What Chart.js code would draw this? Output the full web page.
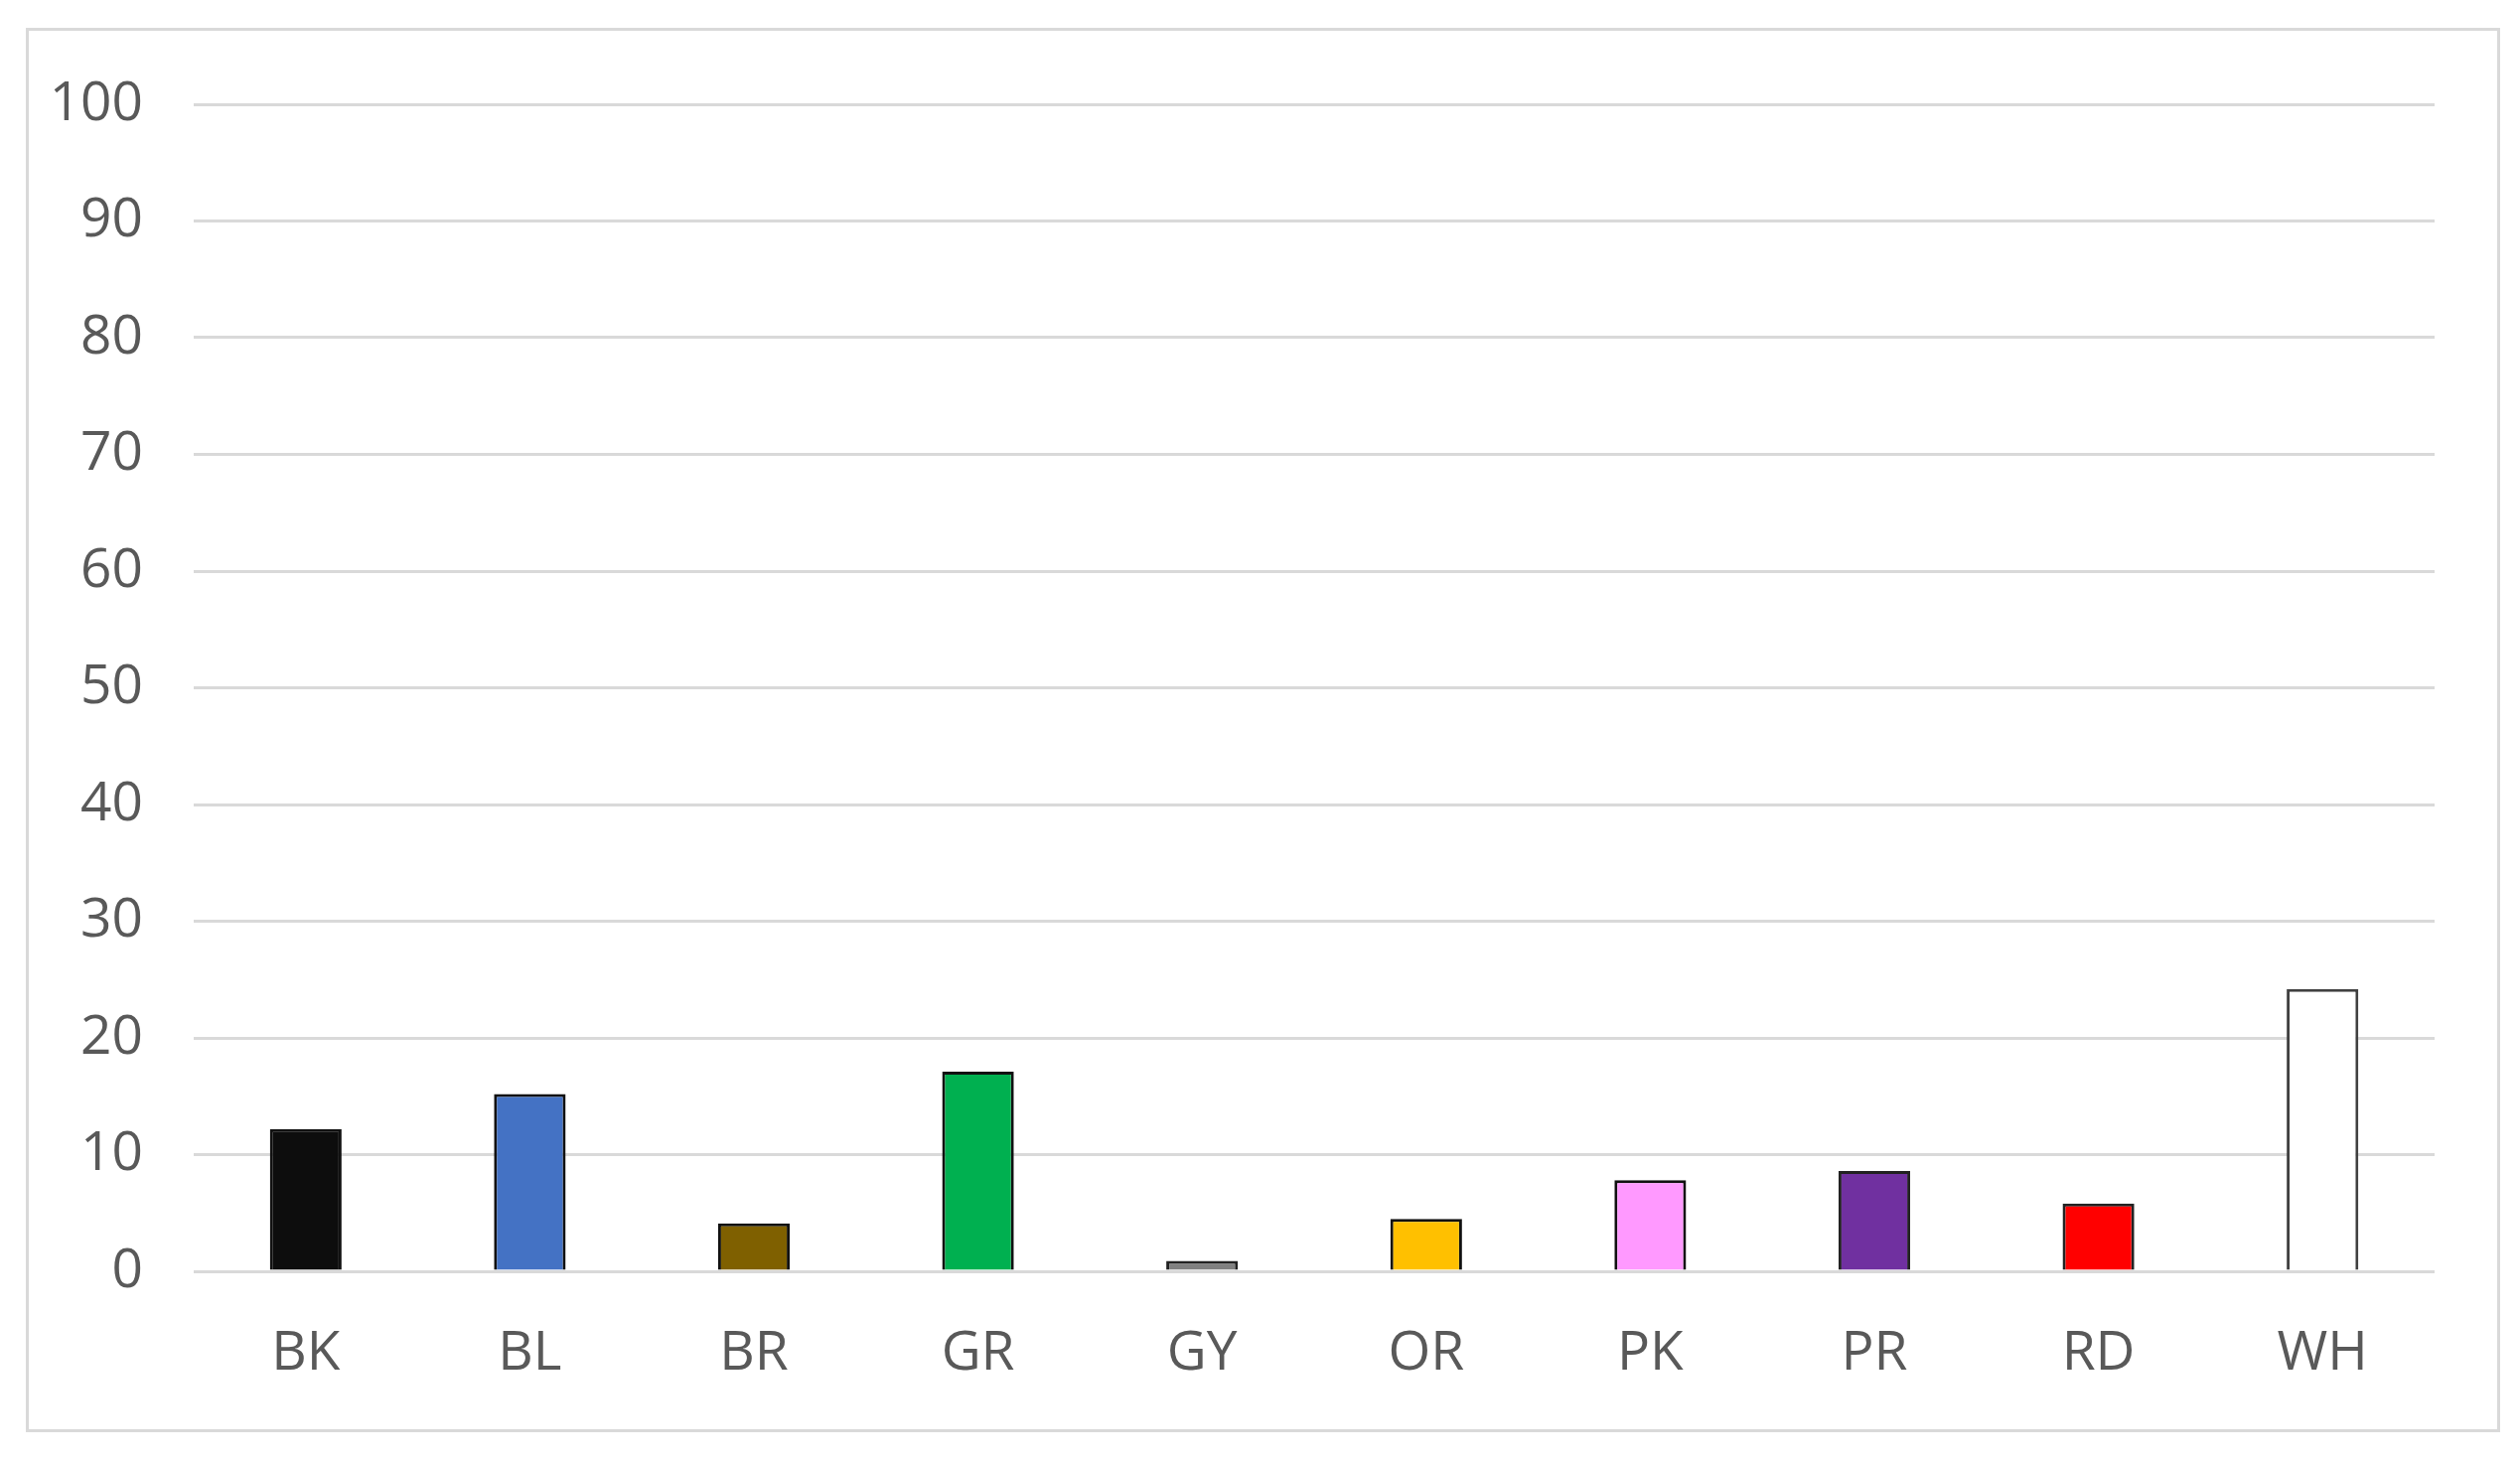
<!DOCTYPE html>
<html>
<head>
<meta charset="utf-8">
<script src="https://cdn.jsdelivr.net/npm/chart.js@4/dist/chart.umd.min.js"></script>
<style>
html,body{margin:0;padding:0;background:#fff;}
#wrap{position:absolute;left:0;top:0;width:2537px;height:1472px;}
</style>
</head>
<body>
<div id="wrap"><canvas id="c" width="2537" height="1472"></canvas></div>
<script>
const categories = ['BK','BL','BR','GR','GY','OR','PK','PR','RD','WH'];
const values = [12.2, 15.2, 4.1, 17.1, 0.9, 4.5, 7.8, 8.6, 5.8, 24.2];
const barColors = ['#0d0d0d','#4472c4','#7f6000','#00b050','#808080','#ffc000','#ff99ff','#7030a0','#ff0000','#ffffff'];
const borderColors = ['#111111','#111111','#111111','#111111','#222222','#111111','#111111','#222222','#222222','#404040'];
const yTicks = [0,10,20,30,40,50,60,70,80,90,100];

const FONT = '"Liberation Sans Narrow", "Open Sans", sans-serif';

const frame = {
  id: 'frame',
  beforeDraw(chart) {
    const ctx = chart.ctx;
    ctx.save();
    ctx.fillStyle = '#ffffff';
    ctx.fillRect(0, 0, chart.width, chart.height);
    ctx.strokeStyle = '#d9d9d9';
    ctx.lineWidth = 3;
    ctx.strokeRect(27.5, 29.5, 2488, 1411);
    ctx.restore();
  }
};

new Chart(document.getElementById('c'), {
  type: 'bar',
  data: {
    labels: categories,
    datasets: [{
      data: values,
      backgroundColor: barColors,
      borderColor: borderColors,
      borderWidth: 3,
      borderSkipped: 'bottom',
      barPercentage: 0.32,
      categoryPercentage: 1.0
    }]
  },
  options: {
    responsive: false,
    animation: false,
    layout: { padding: { top: 105, right: 86, bottom: 0, left: 0 } },
    plugins: { legend: { display: false }, tooltip: { enabled: false } },
    scales: {
      x: {
        grid: { display: false, drawTicks: false },
        border: { display: false },
        ticks: { color: '#595959', font: { family: FONT, size: 55 }, padding: 50 },
        afterFit(s) { s.height = 192; }
      },
      y: {
        min: 0, max: 100,
        afterBuildTicks(s) { s.ticks = yTicks.map(v => ({ value: v })); },
        grid: { color: '#d9d9d9', lineWidth: 3, drawTicks: false },
        border: { display: false },
        ticks: { color: '#595959', font: { family: FONT, size: 55 }, padding: 51 },
        afterFit(s) { s.width = 195; }
      }
    }
  },
  plugins: [frame]
});
</script>
</body>
</html>
